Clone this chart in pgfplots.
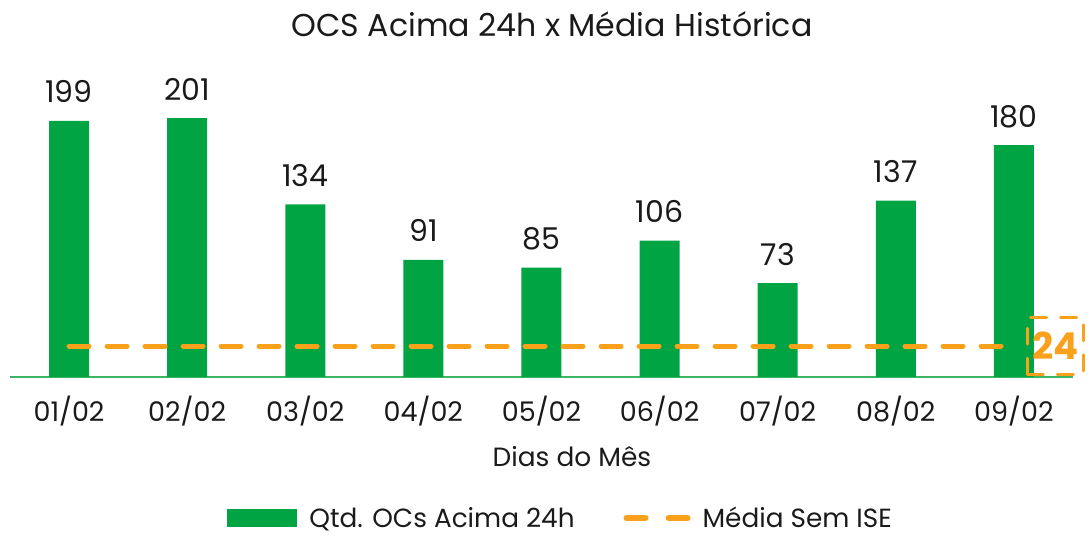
\documentclass[border=0pt]{standalone}
\usepackage{fontspec}
\setmainfont{Poppins}
\usepackage{pgfplots}
\pgfplotsset{compat=1.18}
\definecolor{barg}{HTML}{00A443}
\definecolor{lineo}{HTML}{F9A11B}
\definecolor{axg}{HTML}{3DB564}
\definecolor{txt}{HTML}{1A1A1A}
\begin{document}
\begin{tikzpicture}[x=1pt,y=1pt]
\path[use as bounding box] (0,0) rectangle (1088,536);
\begin{axis}[
  at={(10pt,159pt)}, anchor=south west,
  scale only axis, width=1063pt, height=309pt,
  xmin=-0.5, xmax=8.5, ymin=0, ymax=240,
  /pgf/number format/assume math mode=true,
  axis x line*=bottom, axis y line=none,
  x axis line style={draw=axg, line width=2pt, -},
  xtick={0,...,8},
  xticklabels={01/02,02/02,03/02,04/02,05/02,06/02,07/02,08/02,09/02},
  major tick length=0pt,
  xticklabel style={font=\fontsize{27}{31}\selectfont, text=txt, anchor=base, yshift=-44pt},
  xlabel={Dias do Mês},
  xlabel style={at={(axis description cs:0.5287,0)}, anchor=base, yshift=-89pt, font=\fontsize{26.4}{30}\selectfont, text=txt},
  title={OCS Acima 24h x Média Histórica},
  title style={at={(axis description cs:0.51,1)}, anchor=base, yshift=25pt, font=\fontsize{31.6}{36}\selectfont, text=txt},
  clip=false,
  legend columns=2,
  legend style={draw=none, fill=none, at={(axis description cs:0.5180,-0.457)}, anchor=center, font=\fontsize{26.3}{30}\selectfont, text=txt, inner sep=0pt,
    /tikz/every even column/.append style={column sep=47pt},
    /tikz/every odd column/.append style={column sep=10pt}},
]
\addplot[ybar, bar width=40pt, fill=barg, draw=none,
  nodes near coords, every node near coord/.append style={font=\fontsize{30}{34}\selectfont, text=txt, anchor=base, yshift=18pt},
  legend image code/.code={\fill[barg] (0pt,-9pt) rectangle (70pt,9pt);}]
  coordinates {(0,199) (1,201) (2,134) (3,91) (4,85) (5,106) (6,73) (7,137) (8,180)};
\addlegendentry{Qtd. OCs Acima 24h}
\addplot[lineo, line width=5pt, dash pattern=on 20pt off 18pt, line cap=round,
  legend image code/.code={\draw[lineo, solid, line width=6pt, line cap=round] (3pt,0pt) -- (22pt,0pt) (45pt,0pt) -- (64pt,0pt); \path[draw=none, fill=none] (0pt,-9pt) -- (67pt,9pt);}]
  coordinates {(0,24) (8,24)}
  node[pos=1, anchor=west, xshift=12pt, draw=lineo, line width=3pt, dash pattern=on 16pt off 14pt, minimum height=57pt, inner xsep=5pt, text=lineo, font=\fontsize{37}{40}\selectfont\bfseries] {24};
\addlegendentry{Média Sem ISE}
\end{axis}
\end{tikzpicture}
\end{document}
